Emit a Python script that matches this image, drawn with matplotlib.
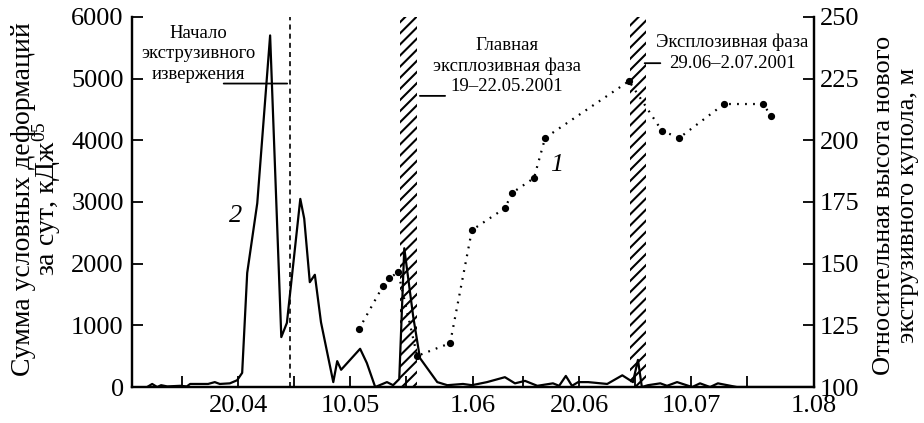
import matplotlib
matplotlib.use("Agg")
import matplotlib.pyplot as plt
import pandas as pd

plt.rcParams['font.family'] = ['Liberation Serif', 'DejaVu Serif']
plt.rcParams['mathtext.fontset'] = 'custom'
plt.rcParams['mathtext.rm'] = 'Liberation Serif'
plt.rcParams['mathtext.it'] = 'Liberation Serif:italic'
plt.rcParams['hatch.linewidth'] = 1.5

base = pd.Timestamp('2001-04-01')

# curve 2: daily sum of conditional deformations (days since 1.04)
deform_day = [2.7, 3.6, 4.5, 5.2, 6.3, 8.6, 9.8, 10.4, 13.6, 14.8, 15.7, 17.5, 18.8,
              19.7, 20.6, 22.4, 24.7, 26.7, 27.7, 30.1, 30.8, 31.8, 32.7, 33.8,
              36.0, 36.7, 37.4, 40.8, 42.0, 43.5, 45.6, 46.7, 47.8, 48.7, 50.3,
              51.5, 54.6, 56.4, 59.2, 60.8, 63.5, 66.7, 68.5, 69.4, 70.3, 72.5,
              75.3, 76.4, 77.6, 78.7, 79.8, 81.6, 85.0, 87.7, 89.6, 90.5, 91.2,
              92.3, 94.5, 95.7, 97.5, 100.2, 101.6, 103.4, 104.8, 108.2, 110.0, 122.0]
deform_val = [0, 50, 0, 30, 10, 20, 10, 50, 50, 80, 50, 60, 110,
              230, 1850, 2980, 5700, 810, 1040, 3050, 2730, 1700, 1820, 1050,
              80, 420, 280, 620, 390, 0, 80, 30, 130, 2250, 1140,
              470, 80, 30, 50, 30, 80, 160, 60, 80, 100, 20,
              60, 20, 180, 20, 80, 80, 50, 190, 80, 440, 0,
              30, 60, 20, 80, 0, 60, 0, 60, 0, 0, 0]

# curve 1: relative height of the new extrusive dome, m
dome_day = [40.6, 44.9, 46.0, 47.6, 51.0, 56.9, 60.8, 66.7, 68.0, 71.9, 73.9,
            88.9, 94.8, 97.9, 105.9, 112.9, 114.3]
dome_val = [123.5, 141, 144, 146.6, 112.6, 117.8, 163.6, 172.5, 178.7, 184.7, 201,
            224, 203.8, 201, 214.7, 214.7, 209.9]

# explosive phases and start of extrusion
phases = [('2001-05-19', '2001-05-22'), ('2001-06-29', '2001-07-02')]
extrusion_start = '2001-04-29 06:00'

major_ticks = ['2001-04-20', '2001-05-10', '2001-06-01', '2001-06-20', '2001-07-10', '2001-08-01']
major_labels = ['20.04', '10.05', '1.06', '20.06', '10.07', '1.08']
minor_ticks = ['2001-04-10', '2001-04-30', '2001-05-20', '2001-06-10', '2001-06-30', '2001-07-20']

deform_x = base + pd.to_timedelta(deform_day, unit='D')
dome_x = base + pd.to_timedelta(dome_day, unit='D')

fig, ax = plt.subplots(figsize=(9.24, 4.23), dpi=100)
fig.subplots_adjust(left=0.1429, right=0.881, bottom=0.085, top=0.96)
ax2 = ax.twinx()

for s, e in phases:
    ax.axvspan(pd.Timestamp(s), pd.Timestamp(e), facecolor='white', edgecolor='black',
               hatch='///', lw=0, zorder=1)
ax.axvline(pd.Timestamp(extrusion_start), color='black', ls=(0, (3, 2.5)), lw=1.2, zorder=2)

ax.plot(deform_x, deform_val, color='black', lw=1.6, zorder=3)
ax2.plot(dome_x, dome_val, color='black', ls=(0, (0.8, 2.8)), lw=1.6,
         marker='o', ms=4.2, zorder=3)

ax.set_xlim(base, pd.Timestamp('2001-08-01'))
ax.set_ylim(0, 6000)
ax2.set_ylim(100, 250)
ax.set_yticks(range(0, 6001, 1000))
ax2.set_yticks(range(100, 251, 25))
ax.set_xticks(pd.to_datetime(major_ticks))
ax.set_xticklabels(major_labels)
ax.set_xticks(pd.to_datetime(minor_ticks), minor=True)

for a in (ax, ax2):
    a.spines['top'].set_visible(False)
    for sp in a.spines.values():
        sp.set_linewidth(1.6)
ax.tick_params(axis='both', which='major', direction='in', length=8, width=1.3,
               labelsize=19, pad=6)
ax.tick_params(axis='x', which='minor', direction='in', length=8, width=1.3)
ax2.tick_params(axis='y', direction='in', length=8, width=1.3, labelsize=19, pad=4)

# axis titles
fig.text(0.04, 0.53, 'Сумма условных деформаций\nза сут, кДж$^{05}$', fontsize=20,
         rotation=90, ha='center', va='center', linespacing=0.8)
fig.text(0.970, 0.515, 'Относительная высота нового\nэкструзивного купола, м', fontsize=19,
         rotation=90, ha='center', va='center', linespacing=1.1)

d = lambda n: base + pd.Timedelta(days=n)
ax.text(d(11.8), 5400, 'Начало\nэкструзивного\nизвержения', ha='center', va='center',
        fontsize=13.5, linespacing=1.25)
ax.annotate('', xy=(pd.Timestamp(extrusion_start), 4920), xytext=(d(15.9), 4920),
            arrowprops=dict(arrowstyle='-', lw=1.3))
ax.text(d(67.1), 5200, 'Главная\nэксплозивная фаза\n19–22.05.2001', ha='center',
        va='center', fontsize=13.5, linespacing=1.25)
ax.annotate('', xy=(d(51.0), 4720), xytext=(d(56.5), 4720),
            arrowprops=dict(arrowstyle='-', lw=1.3))
ax.text(d(107.4), 5420, 'Эксплозивная фаза\n29.06–2.07.2001', ha='center',
        va='center', fontsize=13.5, linespacing=1.25)
ax.annotate('', xy=(d(91.2), 5250), xytext=(d(95.0), 5250),
            arrowprops=dict(arrowstyle='-', lw=1.3))

ax.text(d(18.6), 2780, '2', fontsize=19, style='italic', ha='center', va='center')
ax2.text(d(76.0), 190, '1', fontsize=19, style='italic', ha='center', va='center')

fig.savefig('out.png', dpi=100)
